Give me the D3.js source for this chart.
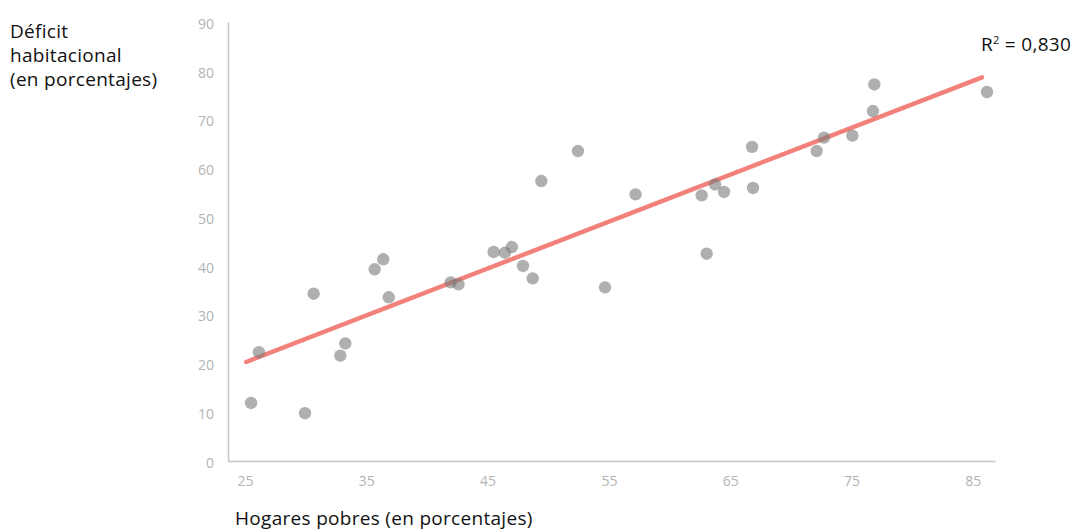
<!DOCTYPE html>
<html>
<head>
<meta charset="utf-8">
<script src="https://cdn.jsdelivr.net/npm/d3@7"></script>
<style>
  html, body { margin: 0; padding: 0; background: #fff; }
  svg { display: block; }
  text { font-family: "Open Sans", Lato, sans-serif; }
</style>
</head>
<body>
<svg id="chart" width="1073" height="532"></svg>
<script>
// ---- data ----
const hogaresPobres = [25.5, 26.15, 29.95, 30.66, 32.86, 33.27, 35.69, 36.4, 36.85, 41.96, 42.6,
  45.5, 46.43, 47.0, 47.92, 48.72, 49.43, 52.45, 54.68, 57.2,
  62.65, 63.06, 63.75, 64.49, 66.8, 66.88, 72.13, 72.73, 75.07, 76.77, 76.88, 86.17];
const deficitHabitacional = [11.9, 22.3, 9.8, 34.3, 21.6, 24.1, 39.3, 41.35, 33.56, 36.63, 36.2,
  42.85, 42.7, 43.87, 39.98, 37.45, 57.4, 63.55, 35.6, 54.67,
  54.46, 42.5, 56.7, 55.15, 64.4, 55.97, 63.55, 66.3, 66.7, 71.75, 77.2, 75.65];
const trendX = [25.1, 85.76];
const trendY = [20.3, 78.66];
const xTicks = [25, 35, 45, 55, 65, 75, 85];
const yTicks = [0, 10, 20, 30, 40, 50, 60, 70, 80, 90];
const r2Label = "0,830";
const yTitle = ["Déficit", "habitacional", "(en porcentajes)"];
const xTitle = "Hogares pobres (en porcentajes)";

// ---- chart ----
const svg = d3.select("#chart");
const x = d3.scaleLinear().domain([23.6, 86.83]).range([228, 995]);
const y = d3.scaleLinear().domain([0, 90]).range([461, 22]);

const axisColor = "#c4c4c4";
const tickColor = "#b3b3b3";

// y axis
const yAxis = svg.append("g").attr("transform", `translate(${x.range()[0]},0)`)
  .call(d3.axisLeft(y).tickValues(yTicks).tickSize(0).tickPadding(14));
yAxis.select(".domain").attr("stroke", axisColor).attr("stroke-width", 1.5);
yAxis.selectAll("text").attr("fill", tickColor).attr("font-size", 14)
  .attr("font-family", "Lato, sans-serif").attr("dy", "0.45em");

// x axis
const xAxis = svg.append("g").attr("transform", `translate(0,${y(0)})`)
  .call(d3.axisBottom(x).tickValues(xTicks).tickSize(0).tickPadding(15));
xAxis.select(".domain").attr("stroke", axisColor).attr("stroke-width", 1.5);
xAxis.selectAll("text").attr("fill", tickColor).attr("font-size", 14)
  .attr("font-family", "Lato, sans-serif");

// trend line
const pts = trendX.map((d, i) => [d, trendY[i]]);
svg.append("path")
  .attr("d", d3.line().x(d => x(d[0])).y(d => y(d[1]))(pts))
  .attr("stroke", "#f2807b").attr("stroke-width", 4.5)
  .attr("stroke-linecap", "round").attr("fill", "none");

// points
svg.append("g").selectAll("circle")
  .data(hogaresPobres.map((d, i) => [d, deficitHabitacional[i]]))
  .join("circle")
  .attr("cx", d => x(d[0])).attr("cy", d => y(d[1])).attr("r", 6.2)
  .attr("fill", "#7a7a7a").attr("fill-opacity", 0.6);

// R2 label
const r2 = svg.append("text").attr("x", 981).attr("y", 51)
  .attr("font-size", 19).attr("letter-spacing", 0.3).attr("fill", "#111");
r2.append("tspan").text("R");
r2.append("tspan").text("2").attr("font-size", 11).attr("dy", -7);
r2.append("tspan").text(" = " + r2Label).attr("dy", 7);

// y title
const yt = svg.append("text").attr("x", 10).attr("y", 38)
  .attr("font-size", 19).attr("letter-spacing", 0.3).attr("fill", "#111");
yTitle.forEach((t, i) => yt.append("tspan").attr("x", 10).attr("dy", i === 0 ? 0 : 24).text(t));

// x title
svg.append("text").attr("x", 235).attr("y", 525)
  .attr("font-size", 19).attr("letter-spacing", 0.3).attr("fill", "#111").text(xTitle);
</script>
</body>
</html>
